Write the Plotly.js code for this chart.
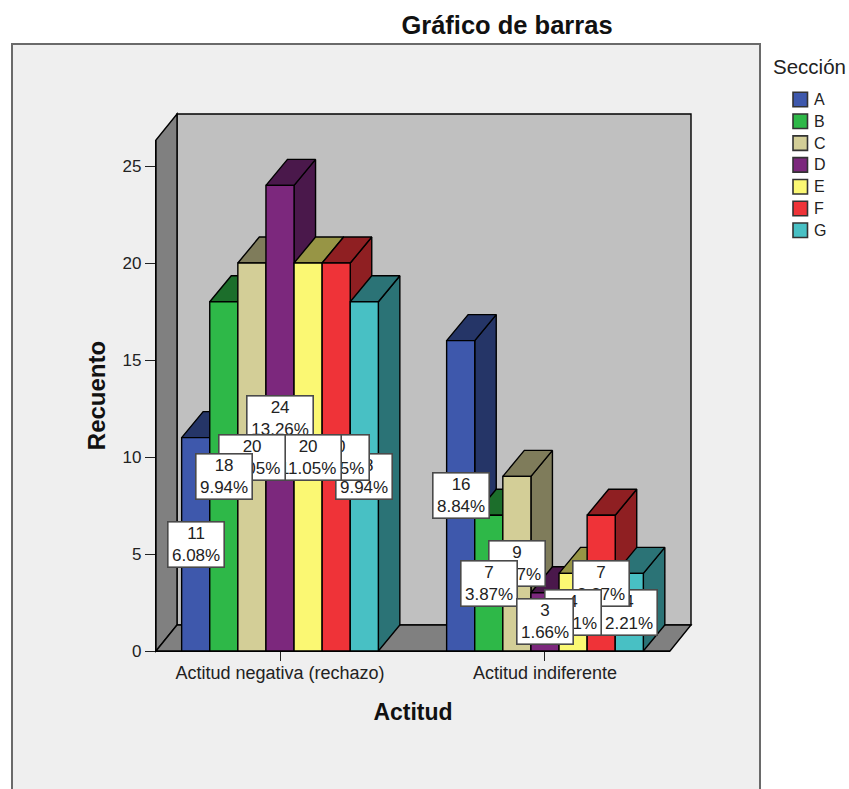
<!DOCTYPE html>
<html>
<head>
<meta charset="utf-8">
<script src="https://cdn.plot.ly/plotly-3.0.1.min.js"></script>
<style>html,body{margin:0;padding:0;background:#fff}#c{width:849px;height:789px}</style>
</head>
<body>
<div id="c"></div>
<script>
const categories = ['Actitud negativa (rechazo)', 'Actitud indiferente'];
const sections = ['A', 'B', 'C', 'D', 'E', 'F', 'G'];
const colors = ['#3E58AC', '#2EB848', '#D3CE97', '#7C287D', '#FBF873', '#EF3338', '#48C0C4'];
const counts = {
  A: [11, 16], B: [18, 7], C: [20, 9], D: [24, 3], E: [20, 4], F: [20, 7], G: [18, 4]
};
const percents = {
  A: ['6.08%', '8.84%'], B: ['9.94%', '3.87%'], C: ['11.05%', '4.97%'], D: ['13.26%', '1.66%'],
  E: ['11.05%', '2.21%'], F: ['11.05%', '3.87%'], G: ['9.94%', '2.21%']
};
const labelOrder = [
  ['D', 'G', 'F', 'E', 'C', 'B', 'A'],
  ['C', 'B', 'G', 'F', 'E', 'D', 'A']
];

// Layout constants (pixels of the page)
const W = 849, H = 789;
const frontLeft = 156, frontRight = 670, frontTop = 140, baseY = 651;
const backRight = 691, backTop = 114;
const barPx = 28.1, groupStepBars = 9.43, firstCenterPx = 280;
const unitPx = 19.4;
const depthBarsX = 21.5 / barPx, depthY = 26 / unitPx;
const pad = 6;
const FONT = 'Liberation Sans, Arial, sans-serif';

const xOfPx = p => (p - firstCenterPx) / barPx;
const yOfPx = p => (baseY - p) / unitPx;
const domX = (a, b) => [a / W, b / W];
const domY = (top, bottom) => [1 - bottom / H, 1 - top / H];

function shade(hex, f) {
  const n = parseInt(hex.slice(1), 16);
  const c = [(n >> 16) & 255, (n >> 8) & 255, n & 255].map(v => Math.round(v * f));
  return 'rgb(' + c.join(',') + ')';
}

const traces = [];
const center = i => i * groupStepBars;
const barX = (i, j) => center(i) + (j - 3);

// Depth faces: painted left to right on the back subplot
sections.forEach((s, j) => {
  categories.forEach((cat, i) => {
    const x0 = barX(i, j) - 0.5, x1 = x0 + 1, v = counts[s][i];
    const face = (xs, ys, f) => traces.push({
      type: 'scatter', mode: 'lines', x: xs, y: ys, fill: 'toself',
      fillcolor: shade(colors[j], f), line: {color: '#000', width: 1.4},
      xaxis: 'x', yaxis: 'y', showlegend: false, hoverinfo: 'skip'
    });
    face([x1, x1 + depthBarsX, x1 + depthBarsX, x1, x1], [0, depthY, v + depthY, v, 0], 0.6);
    face([x0, x0 + depthBarsX, x1 + depthBarsX, x1, x0], [v, v + depthY, v + depthY, v, v], 0.6);
  });
});

// Front faces: real bars on the front plane axes
sections.forEach((s, j) => {
  traces.push({
    type: 'bar', name: s,
    x: categories.map((c, i) => barX(i, j)),
    y: counts[s], width: 1,
    marker: {color: colors[j], line: {color: '#000', width: 1.4}},
    xaxis: 'x2', yaxis: 'y2', cliponaxis: false, showlegend: false,
    hovertemplate: s + ': %{y}<extra></extra>'
  });
});

const annotations = [];
labelOrder.forEach((order, i) => {
  order.forEach(s => {
    const j = sections.indexOf(s);
    annotations.push({
      xref: 'x2', yref: 'y2', x: barX(i, j), y: counts[s][i] / 2,
      text: counts[s][i] + '<br>' + percents[s][i], showarrow: false,
      xanchor: 'center', yanchor: 'middle', align: 'center',
      width: percents[s][i].length > 5 ? 65 : 55, height: 44,
      bgcolor: '#fff', bordercolor: '#4a4a4a', borderwidth: 1.6, borderpad: 0,
      font: {family: FONT, size: 17, color: '#222'}
    });
  });
});

const xL = xOfPx(frontLeft), xR = xOfPx(backRight), xBack = xL + (backRight - frontRight) / barPx;
const yT = yOfPx(backTop);
const wall = (d, fill) => ({
  type: 'path', xref: 'x', yref: 'y', layer: 'below', path: d, fillcolor: fill,
  line: {color: '#000', width: 1.4}
});
const pathOf = pts => 'M' + pts.map(p => p.join(',')).join('L') + 'Z';
const shapes = [
  {type: 'rect', xref: 'paper', yref: 'paper', layer: 'below', x0: 12 / W, x1: 760 / W, y0: -0.02, y1: 1 - 44 / H,
   fillcolor: '#EFEFEF', line: {color: '#6a6a6a', width: 2}},
  wall(pathOf([[xBack, depthY], [xR, depthY], [xR, yT], [xBack, yT]]), '#C0C0C0'),
  wall(pathOf([[xL, 0], [xBack, depthY], [xBack, yT], [xL, yT - depthY]]), '#808080'),
  wall(pathOf([[xL, 0], [xBack, depthY], [xR, depthY], [xR - (xBack - xL), 0]]), '#808080')
];

// Legend: swatches and names taken from the series arrays
const legendLeft = 793, legendTop = 99.5, legendStep = 21.8, swatch = 14.5;
annotations.push({
  xref: 'paper', yref: 'paper', x: 771 / W, y: 1 - 67 / H, xanchor: 'left', yanchor: 'middle',
  text: 'Sección', showarrow: false, font: {family: FONT, size: 20.5, color: '#222'}
});
sections.forEach((s, j) => {
  const cy = legendTop + j * legendStep;
  shapes.push({
    type: 'rect', xref: 'paper', yref: 'paper', x0: legendLeft / W, x1: (legendLeft + swatch) / W,
    y0: 1 - (cy + swatch / 2) / H, y1: 1 - (cy - swatch / 2) / H,
    fillcolor: colors[j], line: {color: '#333', width: 1.6}
  });
  annotations.push({
    xref: 'paper', yref: 'paper', x: 813 / W, y: 1 - cy / H, xanchor: 'left', yanchor: 'middle',
    text: s, showarrow: false, borderpad: 0, font: {family: FONT, size: 16, color: '#222'}
  });
});

const layout = {
  width: W, height: H, autosize: false,
  margin: {l: 0, r: 0, t: 0, b: 0},
  paper_bgcolor: '#fff', plot_bgcolor: 'rgba(0,0,0,0)',
  barmode: 'overlay', hovermode: 'closest', showlegend: false,
  title: {
    text: 'Gráfico de barras', xref: 'container', yref: 'container', x: 507 / W, y: 1 - 25 / H,
    xanchor: 'center', yanchor: 'middle',
    font: {family: FONT, size: 25.5, color: '#111', weight: 'bold'}
  },
  xaxis: {domain: domX(frontLeft - pad, backRight + pad), range: [xOfPx(frontLeft - pad), xOfPx(backRight + pad)], visible: false, fixedrange: true},
  yaxis: {domain: domY(backTop - pad, baseY + pad), range: [yOfPx(baseY + pad), yOfPx(backTop - pad)], visible: false, fixedrange: true},
  xaxis2: {
    domain: domX(frontLeft, frontRight), range: [xOfPx(frontLeft), xOfPx(frontRight)], anchor: 'y2',
    tickmode: 'array', tickvals: categories.map((c, i) => center(i)), ticktext: categories,
    ticks: 'outside', ticklen: 9, tickwidth: 1.4, tickcolor: '#222',
    tickfont: {family: FONT, size: 18, color: '#222'}, ticklabelstandoff: -4,
    showline: true, linecolor: '#000', linewidth: 1.4, showgrid: false, zeroline: false, fixedrange: true,
    title: {text: 'Actitud', font: {family: FONT, size: 23, color: '#111', weight: 'bold'}, standoff: 22}
  },
  yaxis2: {
    domain: domY(frontTop, baseY), range: [0, yOfPx(frontTop)], anchor: 'x2',
    tickmode: 'array', tickvals: [0, 5, 10, 15, 20, 25],
    ticks: 'outside', ticklen: 10, tickwidth: 1.4, tickcolor: '#222',
    tickfont: {family: FONT, size: 17, color: '#222'},
    showline: true, linecolor: '#000', linewidth: 1.4, showgrid: false, zeroline: false, fixedrange: true,
    title: {text: 'Recuento', font: {family: FONT, size: 24, color: '#111', weight: 'bold'}, standoff: 10}
  },
  shapes, annotations
};

Plotly.newPlot('c', traces, layout, {displayModeBar: false, responsive: false});
</script>
</body>
</html>
